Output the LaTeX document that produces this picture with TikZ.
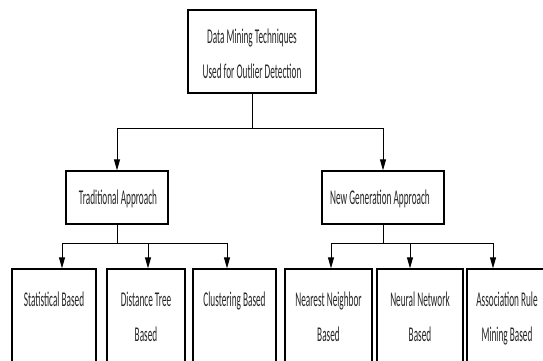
\documentclass[tikz,border=0pt]{standalone}
\usepackage{fontspec}
\newfontfamily\lblfont[FakeStretch=0.44]{Carlito}
\usetikzlibrary{arrows.meta}
\begin{document}
\begin{tikzpicture}[x=1pt,y=-1pt,
  box/.style={draw=black,line width=1.3pt,fill=white,inner sep=0pt},
  txt/.style={font=\lblfont\fontsize{21}{35}\selectfont,align=center,inner sep=0pt,text=black!85},
  conn/.style={draw=black,line width=1pt},
  arr/.style={conn,-{Triangle[length=11pt,width=6pt]}}]
\useasboundingbox (0,0) rectangle (543,360);
\clip (0,0) rectangle (543,360);
\fill[white] (0,0) rectangle (543,360);
% top box
\node[box,minimum width=128pt,minimum height=83pt] (top) at (252,51.5) {};
\node[txt] (toptxt) at (252,54) {Data Mining Techniques\\Used for Outlier Detection};
% second level
\node[box,minimum width=102pt,minimum height=53pt] (trad) at (117,197.5) {};
\node[txt] (tradtxt) at (118,199) {Traditional Approach};
\node[box,minimum width=122pt,minimum height=53pt] (newg) at (383,197.5) {};
\node[txt] (newgtxt) at (380,199) {New Generation Approach};
% bottom boxes
\node[box,minimum width=84pt,minimum height=103pt] (b1) at (54,320.5) {};
\node[box,minimum width=78pt,minimum height=103pt] (b2) at (146,320.5) {};
\node[box,minimum width=83pt,minimum height=103pt] (b3) at (234.5,320.5) {};
\node[box,minimum width=87pt,minimum height=103pt] (b4) at (328.5,320.5) {};
\node[box,minimum width=86pt,minimum height=103pt] (b5) at (420,320.5) {};
\node[box,minimum width=86pt,minimum height=103pt] (b6) at (510,320.5) {};
\node[txt,anchor=north] (t1) at (54,292) {Statistical Based};
\node[txt,anchor=north] (t2) at (146,292) {Distance Tree\\Based};
\node[txt,anchor=north] (t3) at (234.5,292) {Clustering Based};
\node[txt,anchor=north] (t4) at (328.5,292) {Nearest Neighbor\\Based};
\node[txt,anchor=north] (t5) at (420,292) {Neural Network\\Based};
\node[txt,anchor=north] (t6) at (507,292) {Association Rule\\Mining Based};
% connectors
\coordinate (j1) at (252,128);
\coordinate (j2) at (117,243);
\coordinate (j3) at (383,243);
\draw[conn] (top.south) -- (j1);
\draw[arr] (j1) -| (trad.north);
\draw[arr] (j1) -| (newg.north);
\draw[conn] (trad.south) -- (j2);
\draw[arr] (j2) -| ([xshift=8pt]b1.north);
\draw[arr] (j2) -| ([xshift=2pt]b2.north);
\draw[arr] (j2) -| ([xshift=-7.5pt]b3.north);
\draw[conn] (newg.south) -- (j3);
\draw[arr] (j3) -| ([xshift=2.5pt]b4.north);
\draw[arr] (j3) -| ([xshift=-10pt]b5.north);
\draw[arr] (j3) -| ([xshift=-17pt]b6.north);
\end{tikzpicture}
\end{document}
